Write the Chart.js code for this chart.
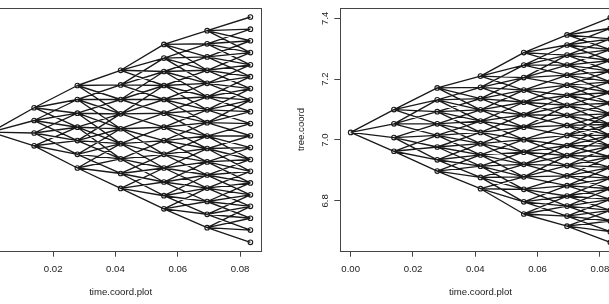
<!DOCTYPE html>
<html>
<head>
<meta charset="utf-8">
<script src="https://cdn.jsdelivr.net/npm/chart.js@4"></script>
<style>
  html, body { margin: 0; padding: 0; background: #fff; }
  body { width: 609px; height: 304px; overflow: hidden; position: relative; }
  .panel { position: absolute; top: 0; }
</style>
</head>
<body>
<canvas id="plotLeft" class="panel" width="340" height="304" style="left:-70px"></canvas>
<canvas id="plotRight" class="panel" width="341" height="304" style="left:290px"></canvas>
<script>
// time axis: 1/12 of a year cut in 6 steps
const timeCoord = [0, 0.01389, 0.02778, 0.04167, 0.05556, 0.06944, 0.08333];
const xTicks = [0, 0.02, 0.04, 0.06, 0.08];
const yTicks = [6.8, 7.0, 7.2, 7.4];

// node values per level (left panel has no visible y axis)
const treeLeft = [
    [7.026],
    [7.106, 7.064, 7.023, 6.981],
    [7.179, 7.133, 7.088, 7.042, 6.998, 6.953, 6.908],
    [7.229, 7.181, 7.133, 7.086, 7.037, 6.988, 6.938, 6.890, 6.841],
    [7.314, 7.269, 7.225, 7.179, 7.133, 7.088, 7.042, 6.998, 6.953, 6.908, 6.862, 6.817, 6.774],
    [7.359, 7.316, 7.273, 7.229, 7.186, 7.142, 7.099, 7.057, 7.013, 6.972, 6.928, 6.885, 6.842, 6.798, 6.756, 6.712],
    [7.404, 7.364, 7.326, 7.287, 7.247, 7.208, 7.169, 7.131, 7.093, 7.054, 7.014, 6.975, 6.936, 6.897, 6.859, 6.820, 6.782, 6.743, 6.704, 6.664]
];

const treeRight = [
    [7.025],
    [7.100, 7.053, 7.008, 6.963],
    [7.171, 7.132, 7.093, 7.053, 7.015, 6.977, 6.935, 6.898],
    [7.210, 7.173, 7.136, 7.099, 7.062, 7.025, 6.988, 6.951, 6.914, 6.877, 6.840],
    [7.287, 7.246, 7.205, 7.164, 7.124, 7.083, 7.042, 7.001, 6.960, 6.920, 6.879, 6.838, 6.797, 6.757],
    [7.345, 7.312, 7.279, 7.246, 7.213, 7.180, 7.147, 7.114, 7.081, 7.048, 7.015, 6.982, 6.949, 6.916, 6.882, 6.850, 6.816, 6.783, 6.750, 6.717],
    [7.402, 7.367, 7.332, 7.297, 7.261, 7.226, 7.191, 7.156, 7.121, 7.086, 7.051, 7.015, 6.980, 6.945, 6.910, 6.875, 6.840, 6.805, 6.769, 6.734, 6.699, 6.664]
];

const FONT = 'Liberation Sans, Arial, Helvetica, sans-serif';
const INK = '#222';

// each node branches to 4 consecutive nodes of the next level,
// outer nodes go to the outer children so the envelope stays closed
function firstChild(j, n, nNext) {
    if (n === 1) return Math.round((nNext - 4) / 2);
    return Math.round(j * (nNext - 4) / (n - 1));
}

function edgePoints(tree) {
    const pts = [];
    for (let i = 0; i < tree.length - 1; i++) {
        const next = tree[i + 1];
        tree[i].forEach((v, j) => {
            const k = firstChild(j, tree[i].length, next.length);
            for (let c = k; c < k + 4 && c < next.length; c++) {
                pts.push({ x: timeCoord[i], y: v });
                pts.push({ x: timeCoord[i + 1], y: next[c] });
                pts.push({ x: timeCoord[i + 1], y: null });
            }
        });
    }
    return pts;
}

function nodePoints(tree) {
    const pts = [];
    tree.forEach((level, i) => level.forEach(v => pts.push({ x: timeCoord[i], y: v })));
    return pts;
}

// R style box around the plot region
const boxPlugin = {
    id: 'box',
    afterDraw(chart) {
        const { ctx, chartArea: a } = chart;
        ctx.save();
        ctx.strokeStyle = '#444';
        ctx.lineWidth = 1;
        const l = Math.round(a.left) + 0.5, t = Math.round(a.top) + 0.5;
        const r = Math.round(a.right) + 0.5, b = Math.round(a.bottom) + 0.5;
        ctx.strokeRect(l, t, r - l, b - t);
        ctx.restore();
    }
};

function dibujarArbol(id, tree, yWidth, padRight) {
    return new Chart(document.getElementById(id), {
        type: 'scatter',
        data: {
            datasets: [
                {
                    data: nodePoints(tree),
                    pointStyle: 'circle',
                    pointRadius: 2.3,
                    pointBackgroundColor: 'rgba(255,255,255,0)',
                    pointBorderColor: '#1a1a1a',
                    pointBorderWidth: 1.1,
                    showLine: false
                },
                {
                    data: edgePoints(tree),
                    showLine: true,
                    spanGaps: false,
                    borderColor: '#1a1a1a',
                    borderWidth: 1.35,
                    pointRadius: 0,
                    tension: 0
                }
            ]
        },
        options: {
            responsive: false,
            animation: false,
            events: [],
            layout: { padding: { top: 7.3, right: padRight, bottom: 0, left: 0 } },
            plugins: { legend: { display: false }, tooltip: { enabled: false } },
            scales: {
                x: {
                    type: 'linear',
                    min: -0.003333,
                    max: 0.086667,
                    afterBuildTicks: s => { s.ticks = xTicks.map(v => ({ value: v })); },
                    afterFit: s => { s.height = 53.3; },
                    grid: { drawOnChartArea: false, drawTicks: true, tickLength: 6, color: '#444' },
                    border: { display: false },
                    ticks: {
                        color: INK, padding: 7, maxRotation: 0, autoSkip: false,
                        font: { family: FONT, size: 9.6 },
                        callback: v => v.toFixed(2)
                    },
                    title: {
                        display: true, text: 'time.coord.plot', color: INK,
                        font: { family: FONT, size: 9.6 },
                        padding: { top: 0, bottom: 5.5 }
                    }
                },
                y: {
                    type: 'linear',
                    min: 6.6364,
                    max: 7.4327,
                    afterBuildTicks: s => { s.ticks = yTicks.map(v => ({ value: v })); },
                    afterFit: s => { s.width = yWidth; },
                    grid: { drawOnChartArea: false, drawTicks: true, tickLength: 6, color: '#444' },
                    border: { display: false },
                    ticks: {
                        color: INK, padding: 2.5, minRotation: 90, maxRotation: 90,
                        crossAlign: 'center', autoSkip: false,
                        font: { family: FONT, size: 9.6 },
                        callback: v => v.toFixed(1)
                    },
                    title: {
                        display: true, text: 'tree.coord', color: INK,
                        font: { family: FONT, size: 9.6 },
                        padding: { top: 5.2, bottom: 0 }
                    }
                }
            }
        },
        plugins: [boxPlugin]
    });
}

dibujarArbol('plotLeft', treeLeft, 50.5, 9.2);
dibujarArbol('plotRight', treeRight, 50.3, 10.3);
</script>
</body>
</html>
